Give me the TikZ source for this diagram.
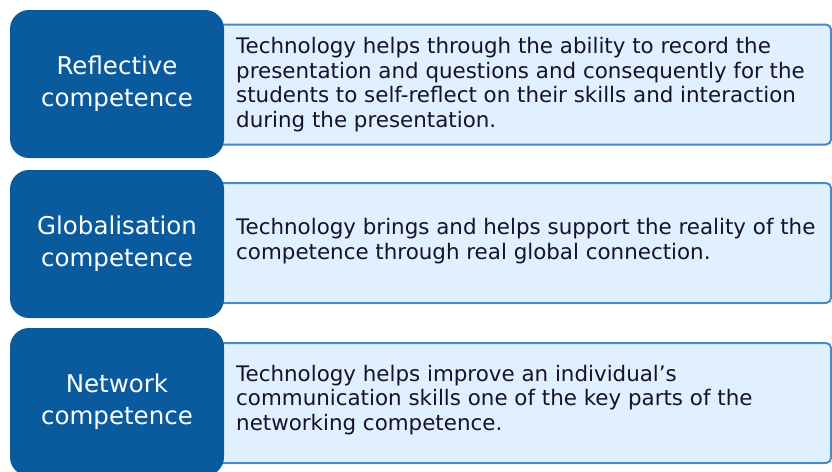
\documentclass[tikz,border=0pt]{standalone}
\usepackage{fontspec}
\setmainfont{DejaVu Sans}
\usetikzlibrary{positioning}
\definecolor{navy}{HTML}{0A5A9E}
\definecolor{paleblue}{HTML}{E0F0FE}
\definecolor{edgeblue}{HTML}{4A89C5}
\definecolor{inkdark}{HTML}{16122A}

\begin{document}
\begin{tikzpicture}[x=1pt, y=-1pt,
  compbox/.style={fill=navy, rounded corners=19pt, minimum width=214pt,
    minimum height=148pt, inner sep=0pt, text=white, align=center,
    font=\fontsize{24.5}{32}\selectfont},
  panel/.style={fill=paleblue, draw=edgeblue, line width=2pt,
    rounded corners=5pt, minimum width=621pt, minimum height=120pt, inner sep=0pt},
  paneltext/.style={anchor=west, inner sep=0pt, text=inkdark, align=left,
    font=\fontsize{21.4}{24.8}\selectfont}]

\useasboundingbox (0,0) rectangle (832,471);

% --- Reflective row ---
\node[panel] (reflpanel) at (520.5,84.5) {};
\node[compbox] (refl) at (117,84) {Reflective\\competence};
\node[paneltext] (refltext) at (236,84.5)
  {Technology helps through the ability to record the\\
   presentation and questions and consequently for the\\
   students to self-reflect on their skills and interaction\\
   during the presentation.};

% --- Globalisation row ---
\node[panel] (globpanel) at (520.5,243) {};
\node[compbox] (glob) at (117,244) {Globalisation\\competence};
\node[paneltext] (globtext) at (236,241)
  {Technology brings and helps support the reality of the\\
   competence through real global connection.};

% --- Network row ---
\node[panel] (netwpanel) at (520.5,403) {};
\node[compbox] (netw) at (117,402) {Network\\competence};
\node[paneltext] (netwtext) at (236,400)
  {Technology helps improve an individual's\\
   communication skills one of the key parts of the\\
   networking competence.};

\end{tikzpicture}
\end{document}
